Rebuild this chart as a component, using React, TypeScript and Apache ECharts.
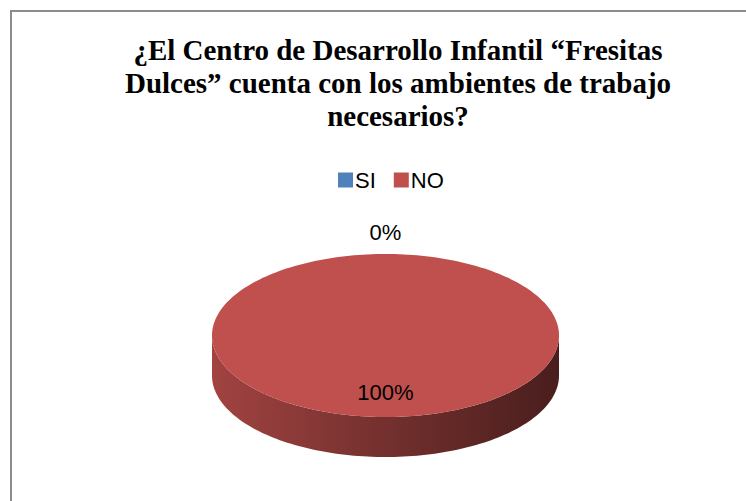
import React, { useEffect, useRef } from "react";
import * as echarts from "echarts";

const categories = ["SI", "NO"];
const values = [0, 100];
const sliceColors = ["#4F81BD", "#C0504D"];
const titleLines = [
  "¿El Centro de Desarrollo Infantil “Fresitas",
  "Dulces” cuenta con los ambientes de trabajo",
  "necesarios?",
];

function shade(hex: string, f: number) {
  const n = parseInt(hex.slice(1), 16);
  const r = Math.round(((n >> 16) & 255) * f);
  const g = Math.round(((n >> 8) & 255) * f);
  const b = Math.round((n & 255) * f);
  return `rgb(${r},${g},${b})`;
}

const CX = 385.5;
const CY = 335.5;
const RX = 173.5;
const RY = 81.5;
const DEPTH = 40;

function pt(a: number, dy = 0): number[] {
  return [CX + RX * Math.sin(a), CY - RY * Math.cos(a) + dy];
}

function arcPoints(a0: number, a1: number, dy = 0): number[][] {
  const n = Math.max(2, Math.ceil(((a1 - a0) / (2 * Math.PI)) * 240));
  const pts: number[][] = [];
  for (let i = 0; i <= n; i++) pts.push(pt(a0 + ((a1 - a0) * i) / n, dy));
  return pts;
}

function makeRenderItem(k: number) {
  return (_params: any, _api: any) => {
    const total = values.reduce((s, v) => s + v, 0);
    const before = values.slice(0, k).reduce((s, v) => s + v, 0);
    const a0 = (before / total) * 2 * Math.PI;
    const a1 = ((before + values[k]) / total) * 2 * Math.PI;
    const color = sliceColors[k];
    const children: any[] = [];
    const frac = values[k] / total;

    if (a1 - a0 > 1e-6) {
      const s = Math.max(a0, Math.PI / 2);
      const e = Math.min(a1, (3 * Math.PI) / 2);
      if (e > s) {
        const top = arcPoints(s, e, 0);
        const bottom = arcPoints(s, e, DEPTH).reverse();
        children.push({
          type: "polygon",
          shape: { points: top.concat(bottom) },
          style: {
            fill: {
              type: "linear",
              x: CX - RX,
              y: 0,
              x2: CX + RX,
              y2: 0,
              global: true,
              colorStops: [
                { offset: 0, color: shade(color, 0.84) },
                { offset: 0.5, color: shade(color, 0.6) },
                { offset: 1, color: shade(color, 0.38) },
              ],
            },
          },
        });
      }
      const full = a1 - a0 >= 2 * Math.PI - 1e-6;
      const topPts = full
        ? arcPoints(0, 2 * Math.PI)
        : [[CX, CY]].concat(arcPoints(a0, a1));
      children.push({
        type: "polygon",
        shape: { points: topPts },
        style: { fill: color },
      });
    }

    const mid = (a0 + a1) / 2;
    const label = Math.round(frac * 100) + "%";
    let lx: number, ly: number;
    if (frac > 0.05) {
      lx = CX + 0.7 * RX * Math.sin(mid);
      ly = CY - 0.7 * RY * Math.cos(mid);
    } else {
      lx = CX + (RX + 22) * Math.sin(mid);
      ly = CY - (RY + 22) * Math.cos(mid);
    }
    children.push({
      type: "text",
      z2: 100,
      style: {
        text: label,
        x: lx,
        y: ly,
        align: "center",
        verticalAlign: "middle",
        fontFamily: "Liberation Sans",
        fontSize: 22,
        fill: "#000000",
      },
    });
    return { type: "group", children };
  };
}

export default function App() {
  const ref = useRef<HTMLDivElement>(null);
  useEffect(() => {
    if (!ref.current) return;
    const chart = echarts.init(ref.current, undefined, { renderer: "svg" });
    chart.setOption({
      animation: false,
      backgroundColor: "#ffffff",
      title: {
        text: titleLines.join("\n"),
        left: 398,
        top: 33,
        textAlign: "center",
        padding: 0,
        textStyle: {
          fontFamily: "Liberation Serif",
          fontWeight: "bold",
          fontSize: 29,
          lineHeight: 33,
          color: "#000000",
          align: "center",
        },
      },
      legend: {
        data: categories,
        left: 333,
        top: 164,
        icon: "rect",
        itemWidth: 15,
        itemHeight: 15,
        itemGap: 18,
        textStyle: {
          fontFamily: "Liberation Sans",
          fontSize: 22,
          color: "#000000",
          padding: [0, 0, 0, -3],
        },
      },
      graphic: [
        {
          type: "rect",
          shape: { x: 11, y: 11, width: 800, height: 600 },
          style: { fill: "none", stroke: "#8c8c8c", lineWidth: 2 },
          silent: true,
        },
      ],
      series: categories.map((name, k) => ({
        type: "custom",
        name,
        coordinateSystem: "none",
        itemStyle: { color: sliceColors[k] },
        data: [[values[k]]],
        renderItem: makeRenderItem(k),
      })),
    });
    return () => chart.dispose();
  }, []);
  return (
    <div
      ref={ref}
      style={{ position: "absolute", left: 0, top: 0, width: 746, height: 501 }}
    />
  );
}
